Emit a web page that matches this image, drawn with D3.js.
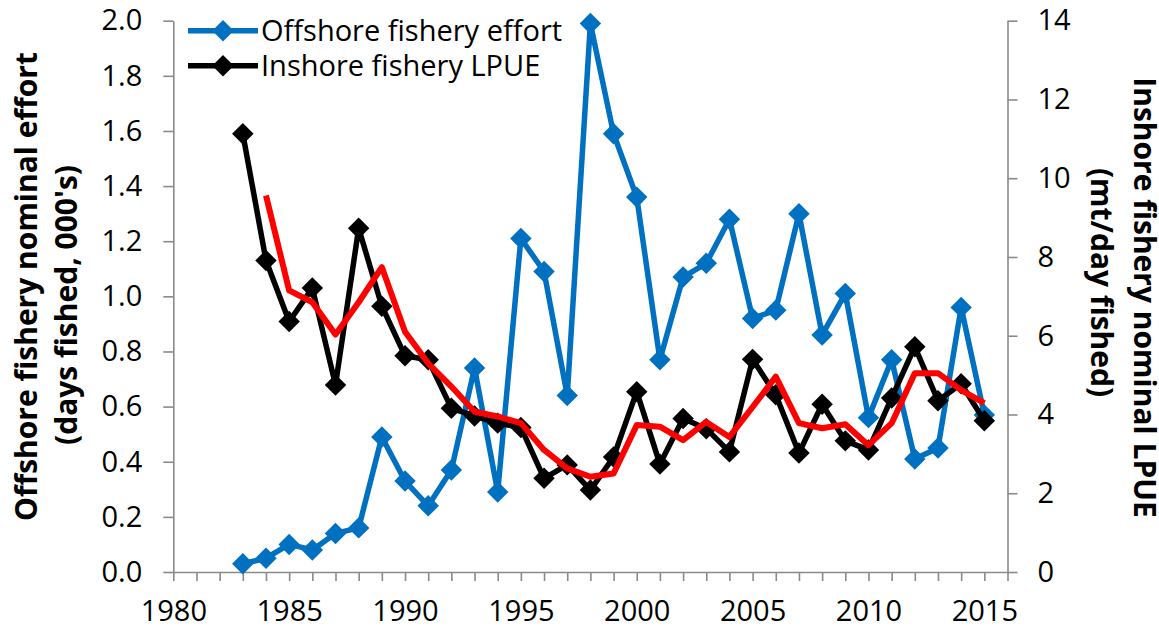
<!DOCTYPE html>
<html>
  <head>
    <script type="text/javascript" src="https://cdn.jsdelivr.net/npm/d3@7"></script>
    <style>
      body {
        margin: 0;
        background: #fff;
      }
      .axis text {
        fill: #000;
        font: 29px 'Open Sans', sans-serif;
      }
      .axis path,
      .axis line {
        fill: none;
        stroke: #8a8a8a;
        stroke-width: 1.6px;
      }
      .title {
        font: bold 30px 'Open Sans', sans-serif;
        fill: #000;
      }
      .legend text {
        font: 29px 'Open Sans', sans-serif;
        fill: #000;
      }
    </style>
  </head>
  <body>
    <svg class="chart"></svg>

    <script type="text/javascript">
      // data
      var years = d3.range(1983, 2016);
      var offshoreEffort = [
        0.03, 0.05, 0.1, 0.08, 0.14, 0.16, 0.49, 0.33, 0.24, 0.37, 0.74, 0.29,
        1.21, 1.09, 0.64, 1.99, 1.59, 1.36, 0.77, 1.07, 1.12, 1.28, 0.92, 0.95,
        1.3, 0.86, 1.01, 0.56, 0.77, 0.41, 0.45, 0.96, 0.57,
      ];
      var inshoreLpue = [
        11.13, 7.91, 6.36, 7.21, 4.75, 8.73, 6.75, 5.49, 5.39, 4.16, 3.96, 3.78,
        3.67, 2.38, 2.72, 2.08, 2.92, 4.58, 2.74, 3.9, 3.64, 3.05, 5.4, 4.5,
        3.02, 4.26, 3.33, 3.1, 4.42, 5.72, 4.35, 4.78, 3.84,
      ];
      // red moving-average line (starts in 1984)
      var avgYears = d3.range(1984, 2016);
      var lpueAverage = [
        9.56, 7.15, 6.85, 6.03, 6.85, 7.74, 6.1, 5.3, 4.71, 4.07, 3.95, 3.78,
        3.1, 2.63, 2.42, 2.5, 3.73, 3.69, 3.35, 3.81, 3.43, 4.19, 4.96, 3.78,
        3.65, 3.75, 3.22, 3.78, 5.05, 5.05, 4.62, 4.29,
      ];
      var leftTicks = d3.range(0, 2.01, 0.2);
      var rightTicks = d3.range(0, 15, 2);
      var yearTicks = d3.range(1980, 2017);
      var legendLabels = ['Offshore fishery effort', 'Inshore fishery LPUE'];

      var width = 1159,
        height = 629;
      // plot frame (don't call it "top", that's window.top)
      var plotLeft = 173.3,
        plotRight = 1007.5,
        plotTop = 20.7,
        plotBottom = 572;

      var svg = d3.select('svg').attr('width', width).attr('height', height);

      var xScale = d3
        .scaleLinear()
        .domain([1980, 2016])
        .range([plotLeft, plotRight]);
      var yLeft = d3.scaleLinear().domain([0, 2]).range([plotBottom, plotTop]);
      var yRight = d3.scaleLinear().domain([0, 14]).range([plotBottom, plotTop]);

      // axes
      svg
        .append('g')
        .attr('class', 'axis')
        .attr('transform', 'translate(' + plotLeft + ',0)')
        .call(
          d3
            .axisLeft(yLeft)
            .tickValues(leftTicks)
            .tickFormat(d3.format('.1f'))
            .tickSize(10)
            .tickSizeOuter(0)
            .tickPadding(21)
        );
      svg
        .append('g')
        .attr('class', 'axis')
        .attr('transform', 'translate(' + plotRight + ',0)')
        .call(
          d3
            .axisRight(yRight)
            .tickValues(rightTicks)
            .tickSize(10)
            .tickSizeOuter(0)
            .tickPadding(20)
        );
      svg
        .append('g')
        .attr('class', 'axis')
        .attr('transform', 'translate(0,' + plotBottom + ')')
        .call(
          d3
            .axisBottom(xScale)
            .tickValues(yearTicks)
            .tickFormat(function (d) {
              return d % 5 === 0 ? d : '';
            })
            .tickSize(9)
            .tickSizeOuter(0)
            .tickPadding(19)
        );

      // square rotated 45deg = Excel diamond marker
      var diamond = d3.symbol().type(d3.symbolSquare).size(230);

      function drawSeries(xs, ys, yScale, color, lineWidth, markers) {
        var pts = xs.map(function (x, i) {
          return [xScale(x), yScale(ys[i])];
        });
        svg
          .append('path')
          .attr('d', d3.line()(pts))
          .attr('fill', 'none')
          .attr('stroke', color)
          .attr('stroke-width', lineWidth)
          .attr('stroke-linejoin', 'round');
        if (markers) {
          svg
            .append('g')
            .selectAll('path')
            .data(pts)
            .enter()
            .append('path')
            .attr('d', diamond)
            .attr('fill', color)
            .attr('transform', function (p) {
              return 'translate(' + p[0] + ',' + p[1] + ') rotate(45)';
            });
        }
      }

      drawSeries(years, offshoreEffort, yLeft, '#0070c0', 5.5, true);
      drawSeries(years, inshoreLpue, yRight, '#000000', 5.5, true);
      drawSeries(avgYears, lpueAverage, yRight, '#ff0000', 6, false);

      // legend
      var legend = svg.append('g').attr('class', 'legend');
      var legendColors = ['#0070c0', '#000000'];
      var legendY = [30.7, 65.7];
      legendLabels.forEach(function (label, i) {
        legend
          .append('line')
          .attr('x1', 188)
          .attr('x2', 258)
          .attr('y1', legendY[i])
          .attr('y2', legendY[i])
          .attr('stroke', legendColors[i])
          .attr('stroke-width', 5.5);
        legend
          .append('path')
          .attr('d', diamond)
          .attr('fill', legendColors[i])
          .attr('transform', 'translate(223,' + legendY[i] + ') rotate(45)');
        legend
          .append('text')
          .attr('x', 261)
          .attr('y', legendY[i] + 10.7)
          .text(label);
      });

      // axis titles
      function title(x, y, angle, txt) {
        svg
          .append('text')
          .attr('class', 'title')
          .attr('text-anchor', 'middle')
          .attr(
            'transform',
            'translate(' + x + ',' + y + ') rotate(' + angle + ')'
          )
          .text(txt);
      }
      title(37, 286.5, -90, 'Offshore fishery nominal effort');
      title(77, 305, -90, "(days fished, 000's)");
      title(1134, 297.5, 90, 'Inshore fishery nominal LPUE');
      title(1091, 282.5, 90, '(mt/day fished)');
    </script>
  </body>
</html>
